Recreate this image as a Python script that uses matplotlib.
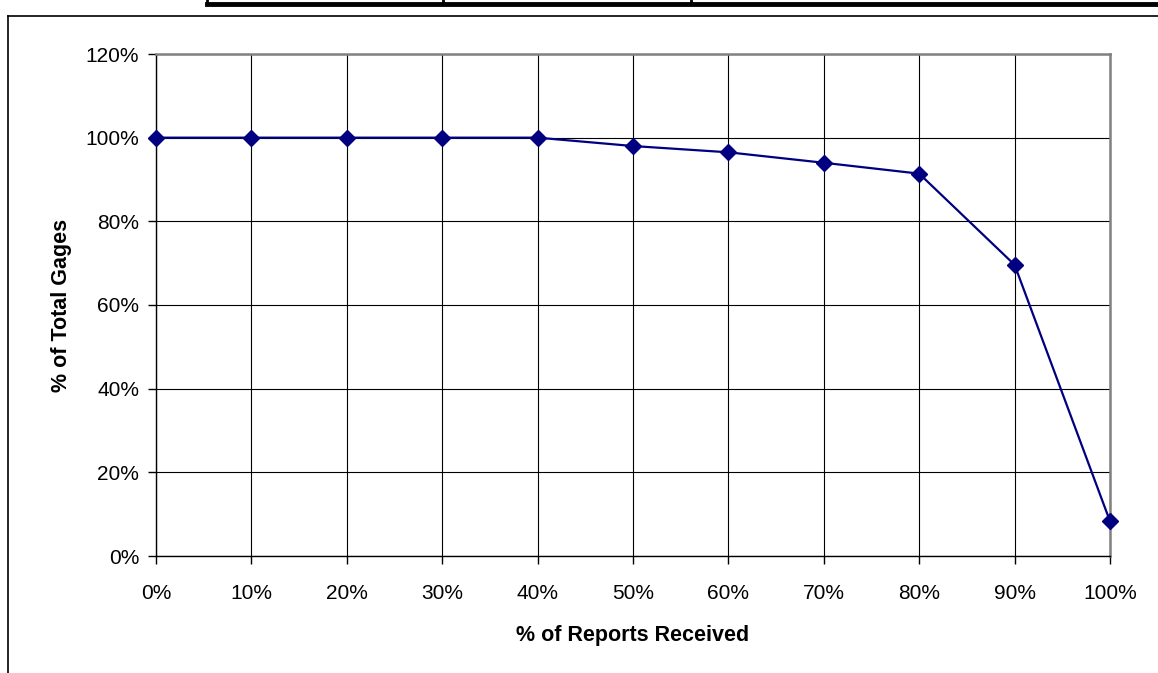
import matplotlib.pyplot as plt
from matplotlib.lines import Line2D
from matplotlib.ticker import FuncFormatter

plt.rcParams['font.family'] = ['Liberation Sans', 'DejaVu Sans']

# data
reports = [0, 10, 20, 30, 40, 50, 60, 70, 80, 90, 100]
gages = [100, 100, 100, 100, 100, 98.0, 96.5, 94.0, 91.4, 69.6, 8.3]

fig = plt.figure(figsize=(11.58, 6.73), dpi=100)
ax = fig.add_axes([156 / 1158, 1 - 556 / 673, (1110 - 156) / 1158, (556 - 54) / 673])

ax.plot(reports, gages, color='#000080', lw=1.6, marker='D', ms=8.5,
        markerfacecolor='#000080', markeredgecolor='#000080', clip_on=False, zorder=5)

ax.set_xlim(0, 100)
ax.set_ylim(0, 120)
ax.set_xticks(range(0, 101, 10))
ax.set_yticks(range(0, 121, 20))
pct = FuncFormatter(lambda v, p: '%d%%' % v)
ax.xaxis.set_major_formatter(pct)
ax.yaxis.set_major_formatter(pct)
ax.grid(True, color='black', lw=0.8)
ax.set_axisbelow(True)
ax.tick_params(direction='out', length=6, width=1, labelsize=15, colors='black')
ax.tick_params(axis='x', pad=14)
ax.tick_params(axis='y', pad=6)
for s in ['top', 'right']:
    ax.spines[s].set_color('#808080')
    ax.spines[s].set_linewidth(1.8)
for s in ['left', 'bottom']:
    ax.spines[s].set_color('black')
    ax.spines[s].set_linewidth(1)

ax.set_xlabel('% of Reports Received', fontsize=15.5, fontweight='bold', labelpad=16)
ax.set_ylabel('% of Total Gages', fontsize=15.5, fontweight='bold', labelpad=10)

# chart frame and fragment of table above
W, H = 1158, 673
fig.add_artist(Line2D([8 / W, 8 / W], [0, 1 - 16 / H], color='black', lw=1.2))
fig.add_artist(Line2D([8 / W, 1], [1 - 16 / H, 1 - 16 / H], color='black', lw=1.2))
fig.add_artist(Line2D([207 / W, 1], [1 - 4 / H, 1 - 4 / H], color='black', lw=3.5))
for xv in [207, 443, 691]:
    fig.add_artist(Line2D([xv / W, xv / W], [1 - 4 / H, 1], color='black', lw=2))

fig.savefig('out.png', dpi=100)
